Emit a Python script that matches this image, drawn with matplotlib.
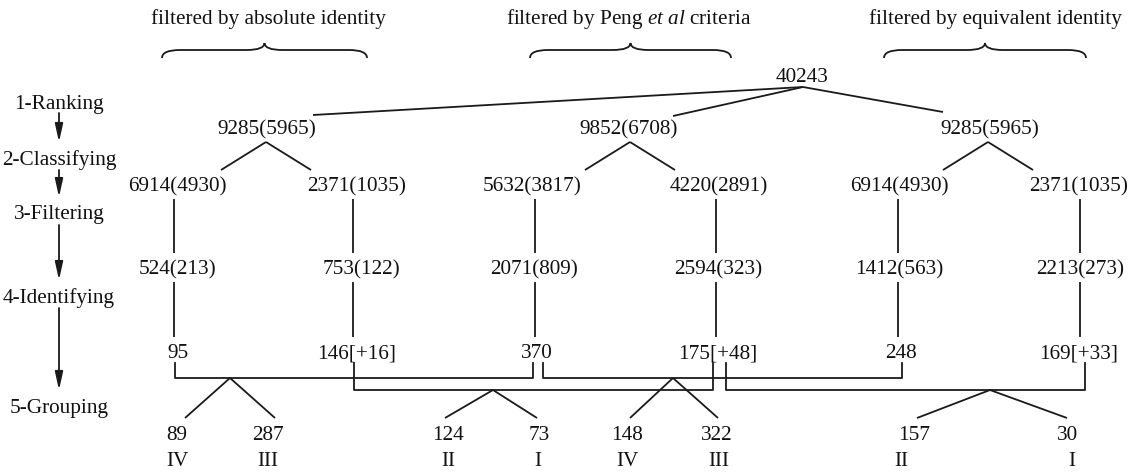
import numpy as np
import matplotlib.pyplot as plt
from matplotlib.path import Path
from matplotlib.patches import PathPatch

plt.rcParams['font.family'] = 'Liberation Serif'
plt.rcParams['mathtext.fontset'] = 'custom'
plt.rcParams['mathtext.rm'] = 'Liberation Serif'
plt.rcParams['mathtext.it'] = 'Liberation Serif:italic'

# ---- data (labels of the flow chart) ----
steps = ['1-Ranking', '2-Classifying', '3-Filtering', '4-Identifying', '5-Grouping']
filters = ['filtered by absolute identity',
           r'filtered by Peng $\mathit{et\ al}$ criteria',
           'filtered by equivalent identity']
total = '40243'
ranked = ['9285(5965)', '9852(6708)', '9285(5965)']
classified = ['6914(4930)', '2371(1035)', '5632(3817)', '4220(2891)', '6914(4930)', '2371(1035)']
filtered = ['524(213)', '753(122)', '2071(809)', '2594(323)', '1412(563)', '2213(273)']
identified = ['95', '146[+16]', '370', '175[+48]', '248', '169[+33]']
group_pairs = [(0, 2), (1, 3), (2, 4), (3, 5)]
group_counts = ['89', '287', '124', '73', '148', '322', '157', '30']
group_types = ['IV', 'III', 'II', 'I', 'IV', 'III', 'II', 'I']

# ---- layout (pixel coordinates) ----
W, H = 1136, 472
fs = 15.3
lc = '#1a1a1a'
lw = 1.3
dy = 2  # text baseline nudge

step_x, step_y = 59, [103, 158, 213, 296, 407]
head_x, head_y = [268, 629, 995], 17
brace_span = [(162, 367), (530, 731), (884, 1086)]
root_xy = (802, 76)
apex0 = (803, 87)
ranked_x, ranked_y = [267, 629, 990], 128
root_ends = [(313, 115), (673, 116), (943, 112)]
split_apex_x = [266, 630, 988]
col_x = [174, 353, 535, 716, 898, 1080]
classified_x, classified_y = [177, 357, 532, 719, 899, 1079], 185
filtered_x, filtered_y = [178, 361, 534, 718, 899, 1080], 268
identified_x, identified_y = [178, 357, 537, 718, 901, 1079], 352
bracket_x = [(175, 533), (354, 713), (543, 902), (726, 1085)]
bracket_y = [378, 390, 378, 390]
group_apex_x = [230, 493, 673, 990]
group_ends = [(185, 275), (445, 537), (630, 718), (917, 1067)]
count_x = [177, 268, 448, 539, 627, 717, 914, 1068]
type_x = [177, 268, 448, 538, 627, 719, 901, 1072]

fig = plt.figure(figsize=(W / 100, H / 100), dpi=100)
ax = fig.add_axes([0, 0, 1, 1])
ax.set_xlim(0, W)
ax.set_ylim(H, 0)
ax.axis('off')


def seg(x0, y0, x1, y1):
    ax.plot([x0, x1], [y0, y1], color=lc, lw=lw, solid_capstyle='butt')


def label(x, y, s):
    ax.text(x, y + dy, s, ha='center', va='center', fontsize=fs, color='#111111')


def brace(x0, x1, ytip=43, ymid=50, ybot=58, r=18):
    xm = (x0 + x1) / 2
    verts = [(x0, ybot), (x0, ymid), (x0 + r, ymid), (xm - r, ymid),
             (xm, ymid), (xm, ytip), (xm, ymid), (xm + r, ymid),
             (x1 - r, ymid), (x1, ymid), (x1, ybot)]
    codes = [Path.MOVETO, Path.CURVE3, Path.CURVE3, Path.LINETO,
             Path.CURVE3, Path.CURVE3, Path.CURVE3, Path.CURVE3,
             Path.LINETO, Path.CURVE3, Path.CURVE3]
    ax.add_patch(PathPatch(Path(verts, codes), fill=False, ec=lc, lw=lw))


# step labels and arrows
for s, y in zip(steps, step_y):
    label(step_x, y, s)
arrows = [(113, 142), (170, 197), (225, 280), (308, 390)]
for a, b in arrows:
    ax.annotate('', xy=(step_x, b), xytext=(step_x, a),
                arrowprops=dict(arrowstyle='-|>,head_width=0.2,head_length=0.9',
                                color=lc, lw=lw, shrinkA=0, shrinkB=0, mutation_scale=12))

# headers and braces
for t, x, (b0, b1) in zip(filters, head_x, brace_span):
    label(x, head_y, t)
    brace(b0, b1)

# root
label(root_xy[0], root_xy[1], total)
for ex, ey in root_ends:
    seg(apex0[0], apex0[1], ex, ey)

# ranked -> classified
for t, x, ax_ in zip(ranked, ranked_x, split_apex_x):
    label(x, ranked_y, t)
    seg(ax_, 142, ax_ - 45, 170)
    seg(ax_, 142, ax_ + 45, 170)

for i in range(6):
    label(classified_x[i], classified_y, classified[i])
    seg(col_x[i], 199, col_x[i], 253)
    label(filtered_x[i], filtered_y, filtered[i])
    seg(col_x[i], 282, col_x[i], 337)
    label(identified_x[i], identified_y, identified[i])

# grouping brackets
for k, (i, j) in enumerate(group_pairs):
    xl, xr = bracket_x[k]
    yb = bracket_y[k]
    ax.plot([xl, xl, xr, xr], [363, yb, yb, 363], color=lc, lw=lw)
    gx = group_apex_x[k]
    seg(gx, yb, group_ends[k][0], 418)
    seg(gx, yb, group_ends[k][1], 418)

for c, t, xc, xt in zip(group_counts, group_types, count_x, type_x):
    label(xc, 433, c)
    label(xt, 460, t)

fig.savefig('out.png', dpi=100)
